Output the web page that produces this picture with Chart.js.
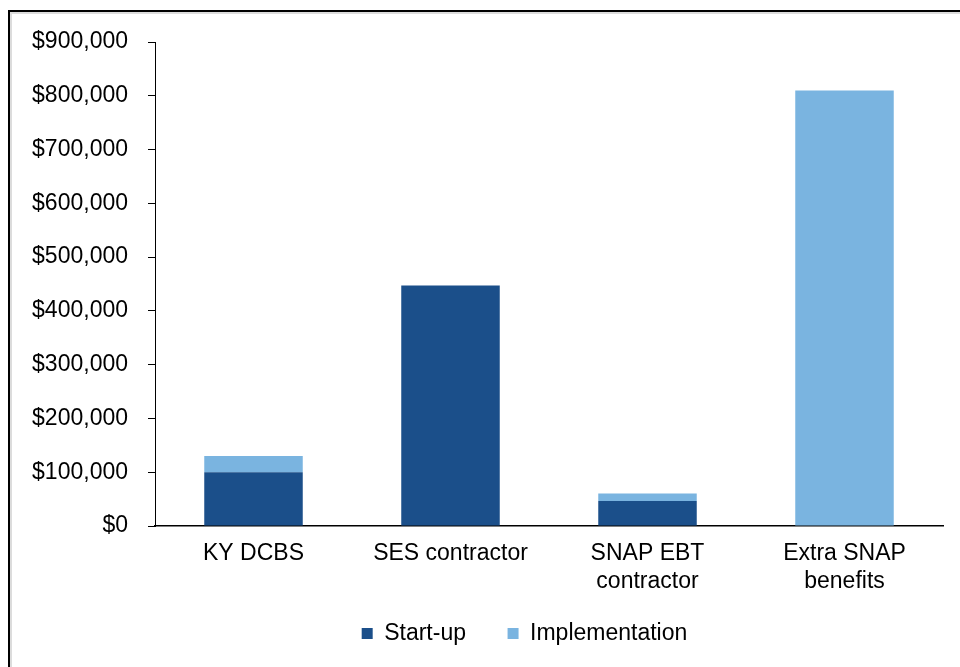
<!DOCTYPE html>
<html>
<head>
<meta charset="utf-8">
<script src="https://cdn.jsdelivr.net/npm/chart.js@4/dist/chart.umd.min.js"></script>
<style>
  html, body { margin: 0; padding: 0; background: #fff; overflow: hidden; }
  #wrap { position: relative; width: 960px; height: 667px; }
  #frame {
    position: absolute; left: 8px; top: 10px; width: 1000px; height: 700px;
    border-left: 2px solid #000; border-top: 2px solid #000;
    box-shadow: inset 2px 2px 0 #dcdcdc; pointer-events: none;
  }
  canvas { position: absolute; left: 0; top: 0; }
</style>
</head>
<body>
<div id="wrap">
  <canvas id="myChart" width="960" height="667"></canvas>
  <div id="frame"></div>
</div>
<script>
const categories = ['KY DCBS', 'SES contractor', ['SNAP EBT', 'contractor'], ['Extra SNAP', 'benefits']];
const startUp = [100000, 447000, 46500, 0];
const implementation = [30000, 0, 14000, 810000];
const yTicks = [0, 100000, 200000, 300000, 400000, 500000, 600000, 700000, 800000, 900000];

const FONT = "'Liberation Sans', Arial, sans-serif";
const FONT_SIZE = 23;

// nudge the legend so it sits under the plot like the original
const legendShift = {
  id: 'legendShift',
  afterUpdate(chart) {
    const lg = chart.legend;
    lg.left += 53;
    lg.right += 53;
  },
};

const ctx = document.getElementById('myChart').getContext('2d');
const chart = new Chart(ctx, {
  type: 'bar',
  data: {
    labels: categories,
    datasets: [
      { label: 'Start-up', data: startUp, backgroundColor: '#1B4F8A', borderWidth: 0 },
      { label: 'Implementation', data: implementation, backgroundColor: '#7AB4E0', borderWidth: 0 },
    ],
  },
  options: {
    responsive: false,
    animation: false,
    layout: { padding: { top: 42, right: 17, bottom: 12, left: 0 } },
    datasets: { bar: { barPercentage: 1, categoryPercentage: 0.5 } },
    plugins: {
      tooltip: { enabled: false },
      legend: {
        position: 'bottom',
        labels: {
          boxWidth: 11,
          boxHeight: 11,
          padding: 16,
          color: '#000',
          font: { family: FONT, size: FONT_SIZE },
          generateLabels(c) {
            const items = Chart.defaults.plugins.legend.labels.generateLabels(c);
            // wider gap between the two entries
            items.forEach((it, i) => { if (i < items.length - 1) it.text += '    '; });
            return items;
          },
        },
      },
    },
    scales: {
      x: {
        stacked: true,
        grid: { display: false, drawTicks: false },
        border: { display: true, color: '#000', width: 1.5 },
        ticks: {
          color: '#000',
          padding: 14,
          maxRotation: 0,
          font: { family: FONT, size: FONT_SIZE, lineHeight: 1.2 },
        },
        afterFit(scale) { scale.height = 80; },
      },
      y: {
        stacked: true,
        min: 0,
        max: 900000,
        afterBuildTicks(scale) { scale.ticks = yTicks.map((v) => ({ value: v })); },
        grid: { drawOnChartArea: false, color: '#000', tickLength: 7 },
        border: { display: true, color: '#000', width: 1 },
        ticks: {
          color: '#000',
          padding: 20,
          font: { family: FONT, size: FONT_SIZE },
          callback: (v) => '$' + Number(v).toLocaleString('en-US'),
        },
        afterFit(scale) { scale.width = 155; },
      },
    },
  },
  plugins: [legendShift],
});
</script>
</body>
</html>
